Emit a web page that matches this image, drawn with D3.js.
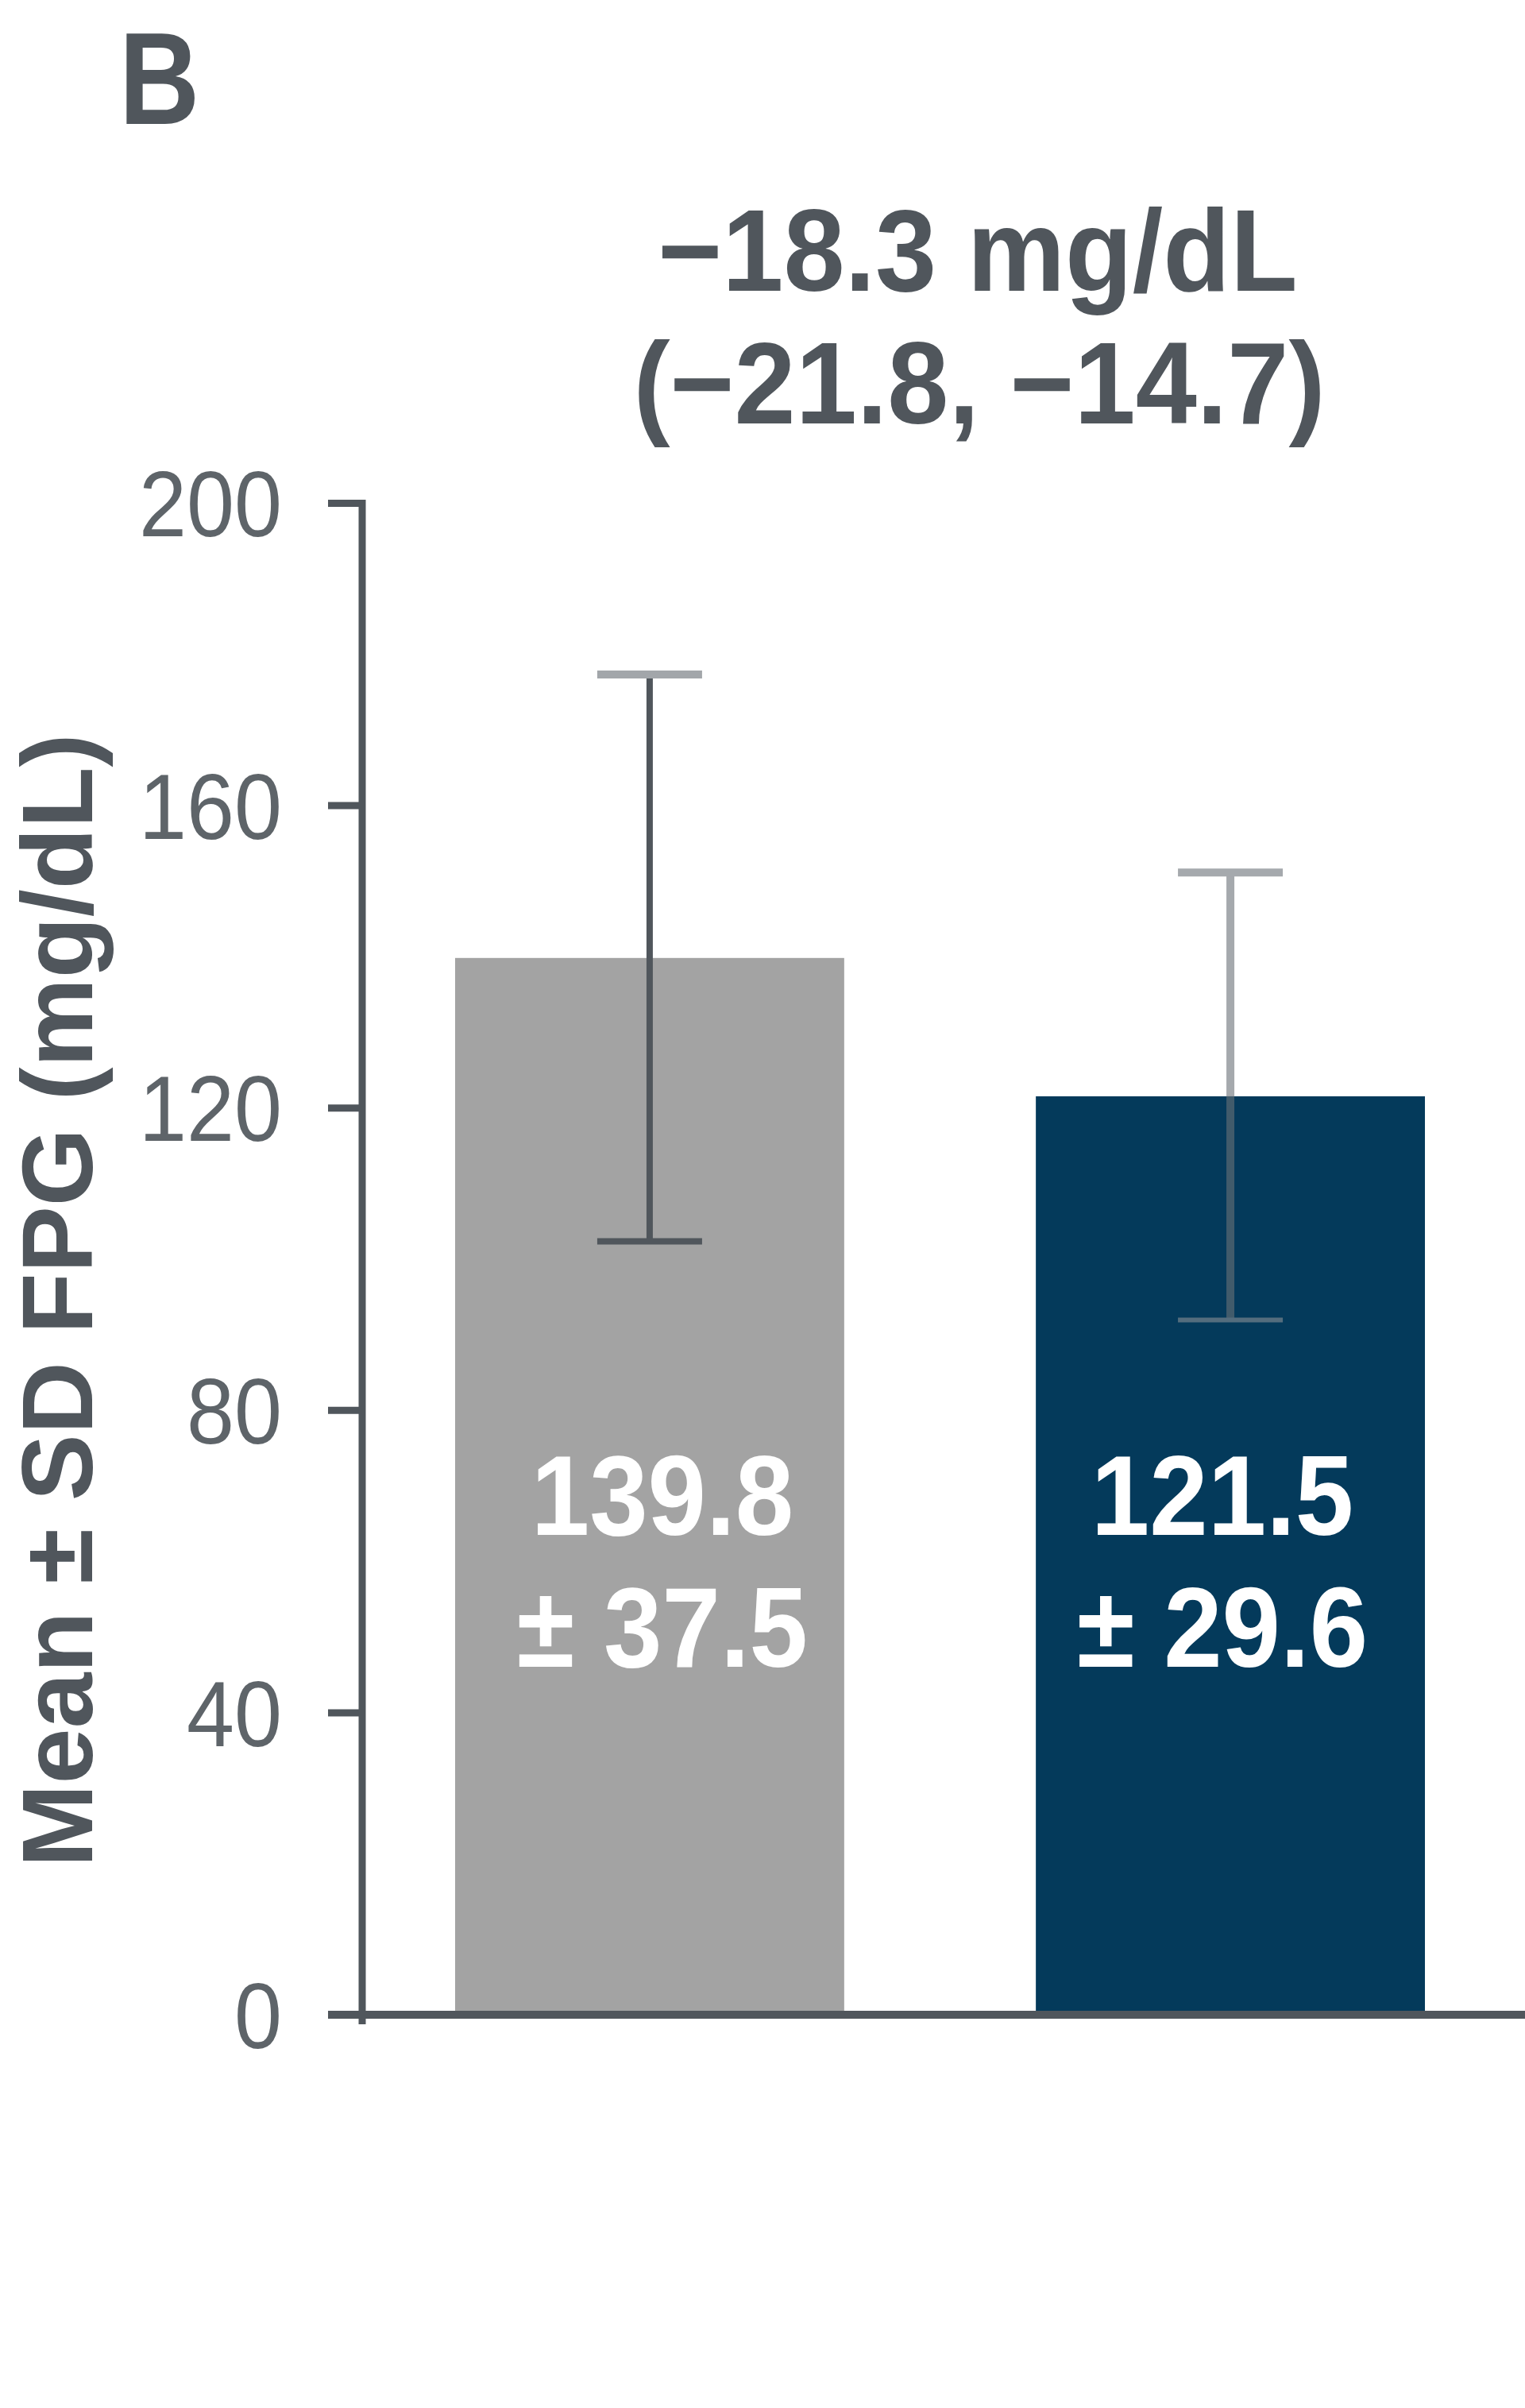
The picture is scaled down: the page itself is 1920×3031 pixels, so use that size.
<!DOCTYPE html>
<html>
<head>
<meta charset="utf-8">
<script src="https://cdn.jsdelivr.net/npm/d3@7"></script>
<style>
  html, body { margin: 0; padding: 0; background: #ffffff; }
  svg { display: block; }
</style>
</head>
<body>
<script>
// ---- Data ----
const categories = ["Baseline", "Follow-up"];
const means = [139.8, 121.5];
const sds = [37.5, 29.6];
const valueLines1 = ["139.8", "121.5"];
const valueLines2 = ["± 37.5", "± 29.6"];
const yTicks = [0, 40, 80, 120, 160, 200];
const titleLines = ["−18.3 mg/dL", "(−21.8, −14.7)"];
const panelLabel = "B";
const yAxisTitle = "Mean ± SD FPG (mg/dL)";

// ---- Layout ----
const W = 1920, H = 3031;
const FONT = "'Liberation Sans', Arial, Helvetica, sans-serif";
const DARK = "#50565c";
const TICKTXT = "#5e6469";
const barColors = ["#a3a3a3", "#043a5b"];
const labelShift = [16, -10];

const svg = d3.select("body").append("svg").attr("width", W).attr("height", H);
svg.append("rect").attr("width", W).attr("height", H).attr("fill", "#fff");

const axisX = 456;
const y = d3.scaleLinear().domain([0, 200]).range([2536, 633]);
const x = d3.scaleBand().domain(categories).range([axisX, 1911])
  .paddingInner(0.33).paddingOuter(0.16);

function ctext(parent, tx, ty, str, o) {
  const sx = o.sx || 1;
  return parent.append("text")
    .attr("transform", `translate(${tx},${ty}) scale(${sx},1)`)
    .attr("text-anchor", o.anchor || "middle")
    .attr("font-family", FONT)
    .attr("font-size", o.size)
    .attr("font-weight", o.weight || "normal")
    .attr("fill", o.fill || DARK)
    .text(str);
}

// Panel label
ctext(svg, 150, 156, panelLabel, {size: 165, weight: "bold", anchor: "start", sx: 0.85});

// Title lines
ctext(svg, 1231, 366, titleLines[0], {size: 146, weight: "bold", sx: 0.95});
ctext(svg, 1233, 533, titleLines[1], {size: 146, weight: "bold", sx: 0.95});

// Bars
svg.selectAll("rect.bar").data(categories).enter().append("rect")
  .attr("class", "bar")
  .attr("x", d => x(d))
  .attr("width", x.bandwidth())
  .attr("y", (d, i) => y(means[i]))
  .attr("height", (d, i) => y(0) - y(means[i]))
  .attr("fill", (d, i) => barColors[i]);

// Error bars
const capHalf = 66;
categories.forEach((c, i) => {
  const cx = x(c) + x.bandwidth() / 2;
  const hi = y(means[i] + sds[i]), lo = y(means[i] - sds[i]);
  const g = svg.append("g");
  if (i === 0) {
    g.append("line").attr("x1", cx).attr("x2", cx).attr("y1", hi).attr("y2", lo)
      .attr("stroke", DARK).attr("stroke-width", 8);
    g.append("line").attr("x1", cx - capHalf).attr("x2", cx + capHalf).attr("y1", hi).attr("y2", hi)
      .attr("stroke", "#a2a6aa").attr("stroke-width", 10);
    g.append("line").attr("x1", cx - capHalf).attr("x2", cx + capHalf).attr("y1", lo).attr("y2", lo)
      .attr("stroke", DARK).attr("stroke-width", 8);
  } else {
    g.attr("opacity", 0.6);
    g.append("line").attr("x1", cx).attr("x2", cx).attr("y1", hi).attr("y2", lo)
      .attr("stroke", "#6b7177").attr("stroke-width", 10);
    g.append("line").attr("x1", cx - capHalf).attr("x2", cx + capHalf).attr("y1", hi).attr("y2", hi)
      .attr("stroke", "#6b7177").attr("stroke-width", 10);
    g.append("line").attr("x1", cx - capHalf).attr("x2", cx + capHalf).attr("y1", lo).attr("y2", lo)
      .attr("stroke", "#8a9096").attr("stroke-width", 6);
  }
});

// Value labels inside bars
categories.forEach((c, i) => {
  const cx = x(c) + x.bandwidth() / 2 + labelShift[i];
  ctext(svg, cx, y(0) - 604, valueLines1[i], {size: 142, weight: "bold", fill: "#ffffff", sx: 0.93});
  ctext(svg, cx, y(0) - 438, valueLines2[i], {size: 142, weight: "bold", fill: "#ffffff", sx: 0.93});
});

// Y axis
const tickLen = 43, tickPad = 58, tsx = 0.93;
const yAxisG = svg.append("g").attr("transform", `translate(${axisX},0)`)
  .call(d3.axisLeft(y).tickValues(yTicks).tickSize(tickLen).tickSizeOuter(0).tickPadding(tickPad));
yAxisG.select(".domain").attr("stroke", DARK).attr("stroke-width", 9)
  .attr("d", `M0,${y(200) - 4}V${y(0) + 12}`);
yAxisG.selectAll(".tick line").attr("stroke", DARK).attr("stroke-width", 9);
yAxisG.selectAll(".tick text")
  .attr("font-family", FONT).attr("font-size", 116).attr("fill", TICKTXT)
  .attr("dy", "0.36em")
  .attr("x", -(tickLen + tickPad) / tsx)
  .attr("transform", `scale(${tsx},1)`);
yAxisG.attr("font-family", FONT);

// X axis baseline
svg.append("line")
  .attr("x1", axisX - tickLen).attr("x2", W)
  .attr("y1", y(0)).attr("y2", y(0))
  .attr("stroke", DARK).attr("stroke-width", 10);

// Y axis title
svg.append("text")
  .attr("transform", `translate(116,1637) rotate(-90)`)
  .attr("text-anchor", "middle")
  .attr("font-family", FONT).attr("font-size", 126).attr("font-weight", "bold")
  .attr("fill", DARK)
  .text(yAxisTitle);
</script>
</body>
</html>
